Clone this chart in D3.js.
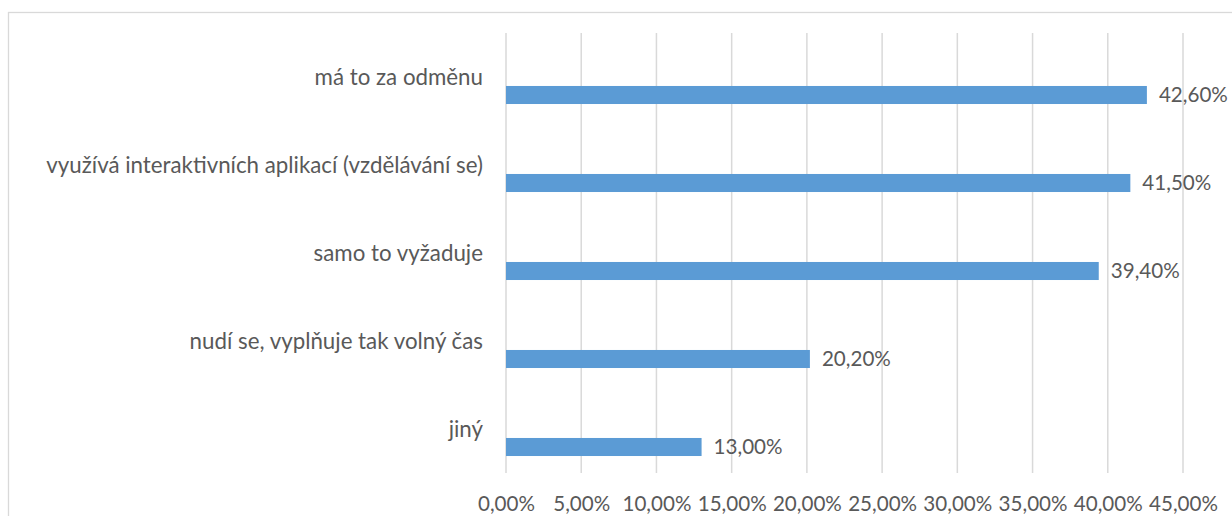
<!DOCTYPE html>
<html><head><meta charset="utf-8">
<script src="https://cdn.jsdelivr.net/npm/d3@7"></script>
<style>
html,body{margin:0;padding:0;background:#fff;}
svg{display:block;font-family:Lato, "Open Sans", sans-serif;}
</style></head>
<body>
<svg id="chart" width="1232" height="516"></svg>
<script>
const categories = ["má to za odměnu","využívá interaktivních aplikací (vzdělávání se)","samo to vyžaduje","nudí se, vyplňuje tak volný čas","jiný"];
const values = [42.6, 41.5, 39.4, 20.2, 13.0];
const tickValues = [0,5,10,15,20,25,30,35,40,45];
const fmt = v => v.toFixed(2).replace(".", ",") + "%";

const svg = d3.select("#chart");
const textColor = "#595959";
const fontSize = 22.3;
const numSize = 20.6;

// chart border
svg.append("rect").attr("x",8.5).attr("y",12.5).attr("width",1300).attr("height",600)
  .attr("fill","none").attr("stroke","#d9d9d9").attr("stroke-width",1.3);

const x = d3.scaleLinear().domain([0,45]).range([506,1183]);
const y = d3.scaleBand().domain(categories).range([33,473]).paddingInner(0).paddingOuter(0);

// gridlines
svg.append("g").selectAll("line").data(tickValues).join("line")
  .attr("x1",d=>x(d)).attr("x2",d=>x(d)).attr("y1",33).attr("y2",473)
  .attr("stroke","#d9d9d9").attr("stroke-width",1.5);

// axis labels
const xAxis = d3.axisBottom(x).tickValues(tickValues).tickFormat(d=>fmt(d)).tickSize(0).tickPadding(0);
const gx = svg.append("g").attr("transform","translate(0,504)").call(xAxis);
gx.select(".domain").remove();
gx.selectAll("text").attr("font-size",numSize).attr("fill",textColor).attr("font-family","Lato, sans-serif")
  .attr("dy","0.35em");

// bars
const bw = y.bandwidth();
svg.append("g").selectAll("rect").data(categories).join("rect")
  .attr("x",x(0)).attr("y",d=>y(d)+bw*0.602).attr("height",bw*0.205)
  .attr("width",(d,i)=>x(values[i])-x(0))
  .attr("fill","#5b9bd5");

// value labels
svg.append("g").selectAll("text").data(categories).join("text")
  .attr("x",(d,i)=>x(values[i])+12).attr("y",d=>y(d)+bw*0.705)
  .attr("dy","0.35em").attr("font-size",numSize).attr("fill",textColor)
  .text((d,i)=>fmt(values[i]));

// category labels
svg.append("g").selectAll("text").data(categories).join("text")
  .attr("x",483).attr("y",d=>y(d)+bw*0.5)
  .attr("dy","0.35em").attr("text-anchor","end").attr("font-size",fontSize).attr("fill",textColor)
  .text(d=>d);
</script>
</body></html>
